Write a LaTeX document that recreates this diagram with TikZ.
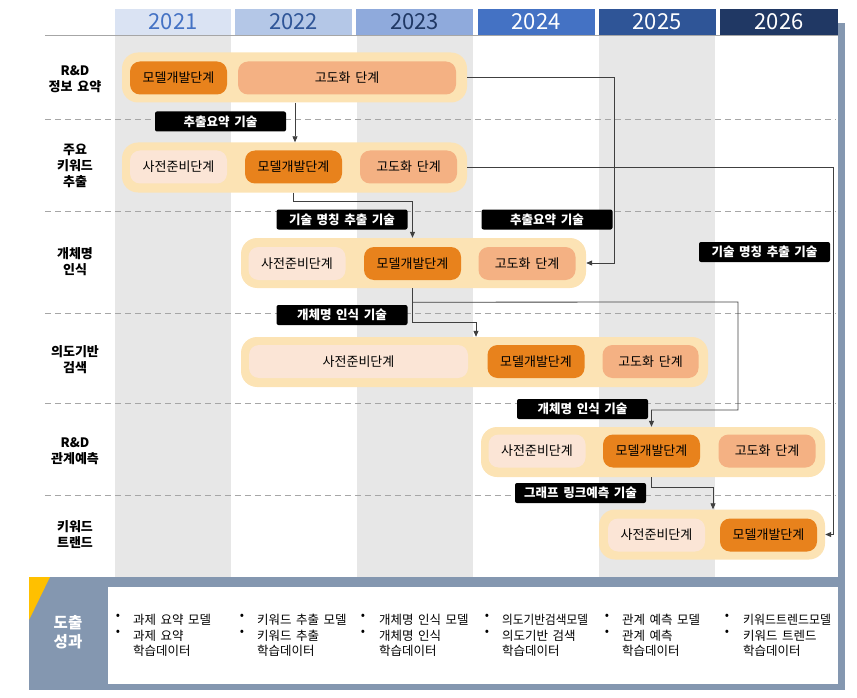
\documentclass[tikz,border=0pt]{standalone}
\usepackage{graphicx}
\usepackage{fontspec}
\setmainfont{Noto Sans CJK KR}[WordSpace=1.6]
\usetikzlibrary{arrows.meta}
\definecolor{colgray}{HTML}{E7E7E7}
\definecolor{bandc}{HTML}{8497B0}
\definecolor{triy}{HTML}{FFC000}
\definecolor{pillc}{HTML}{FCE3B4}
\definecolor{mdc}{HTML}{E8821C}
\definecolor{gdc}{HTML}{F4B183}
\definecolor{sjc}{HTML}{FBE5D6}
\definecolor{hA}{HTML}{DAE3F3}
\definecolor{hB}{HTML}{B4C7E7}
\definecolor{hC}{HTML}{8FAADC}
\definecolor{hD}{HTML}{4472C4}
\definecolor{hE}{HTML}{2F5597}
\definecolor{hF}{HTML}{203864}
\definecolor{connc}{HTML}{404040}
\definecolor{dashc}{HTML}{A6A6A6}
\begin{document}
\begin{tikzpicture}[x=1pt,y=-1pt,
  hdr/.style={rectangle, inner sep=0pt, minimum height=26pt, font=\fontsize{22}{24}\selectfont},
  pill/.style={rectangle, rounded corners=16pt, fill=pillc, inner sep=0pt, minimum height=50pt},
  stage/.style={rectangle, rounded corners=10pt, inner sep=0pt, minimum height=33pt, text=black, font=\fontsize{13}{15}\selectfont},
  md/.style={stage, fill=mdc},
  gd/.style={stage, fill=gdc},
  sj/.style={stage, fill=sjc},
  tech/.style={rectangle, rounded corners=2pt, fill=black, text=white, inner sep=0pt, minimum width=131pt, minimum height=20pt, font=\bfseries\fontsize{12.5}{14}\selectfont},
  rowlab/.style={align=center, inner sep=0pt, font=\bfseries\fontsize{13}{16}\selectfont},
  conn/.style={draw=connc, line width=0.8pt},
  arr/.style={conn, -{Triangle[length=6pt,width=5pt]}},
  sep/.style={draw=dashc, line width=0.8pt, dash pattern=on 6pt off 4pt},
  outtxt/.style={align=left, anchor=north west, inner sep=0pt, font=\fontsize{12.5}{15.5}\selectfont},
  bul/.style={anchor=north, inner sep=0pt, font=\fontsize{12.5}{15.5}\selectfont}
]
\useasboundingbox (0,0) rectangle (857,698);
% shaded columns
\fill[colgray] (115,35) rectangle (231,577);
\fill[colgray] (357,35) rectangle (473,577);
\fill[colgray] (599,35) rectangle (715,577);
% row separators
\foreach \yy in {119,211,313,403,495} \draw[sep] (45,\yy) -- (836,\yy);
% frame and bottom band
\fill[bandc] (838,23) rectangle (845,690);
\fill[bandc] (29,577) rectangle (845,690);
\fill[white] (108,587) rectangle (838,684);
\fill[triy] (29,577) -- (50,577) -- (29,620) -- cycle;
% headers
\node[hdr, fill=hA, text=hD, minimum width=116pt] (y21) at (173,22) {2021};
\node[hdr, fill=hB, text=hE, minimum width=117pt] (y22) at (293.5,22) {2022};
\node[hdr, fill=hC, text=hF, minimum width=117pt] (y23) at (414.5,22) {2023};
\node[hdr, fill=hD, text=white, minimum width=117pt] (y24) at (536,22) {2024};
\node[hdr, fill=hE, text=white, minimum width=117pt] (y25) at (657,22) {2025};
\node[hdr, fill=hF, text=white, minimum width=118pt] (y26) at (779,22) {2026};
\draw[gray!70, line width=0.8pt] (45,35) -- (838,35);
% row labels
\node[rowlab] (r1) at (75,79.5) {R\&D\\정보 요약};
\node[rowlab] (r2) at (75,166) {주요\\키워드\\추출};
\node[rowlab] (r3) at (75,261.5) {개체명\\인식};
\node[rowlab] (r4) at (75,359.5) {의도기반\\검색};
\node[rowlab] (r5) at (75,451.5) {R\&D\\관계예측};
\node[rowlab] (r6) at (75,535) {키워드\\트랜드};
% pills
\node[pill, minimum width=345pt] (p1) at (294.5,77.5) {};
\node[pill, minimum width=345pt] (p2) at (294.5,167.5) {};
\node[pill, minimum width=345pt] (p3) at (413.5,263) {};
\node[pill, minimum width=467pt] (p4) at (474.5,362) {};
\node[pill, minimum width=344pt] (p5) at (653,452) {};
\node[pill, minimum width=226pt] (p6) at (712,534.5) {};
% stages
\node[md, minimum width=97pt] (m1) at (178.5,78) {모델개발단계};
\node[gd, minimum width=218pt] (g1) at (347,78) {고도화 단계};
\node[sj, minimum width=97pt] (s2) at (178.5,167) {사전준비단계};
\node[md, minimum width=97pt] (m2) at (293.5,167) {모델개발단계};
\node[gd, minimum width=97pt] (g2) at (408.5,167) {고도화 단계};
\node[sj, minimum width=97pt] (s3) at (297,263.5) {사전준비단계};
\node[md, minimum width=97pt] (m3) at (412.5,263.5) {모델개발단계};
\node[gd, minimum width=97pt] (g3) at (527,263.5) {고도화 단계};
\node[sj, minimum width=219pt] (s4) at (358.5,361.5) {사전준비단계};
\node[md, minimum width=97pt] (m4) at (536,361.5) {모델개발단계};
\node[gd, minimum width=96pt] (g4) at (650.5,361.5) {고도화 단계};
\node[sj, minimum width=97pt] (s5) at (537,451) {사전준비단계};
\node[md, minimum width=97pt] (m5) at (651.5,451) {모델개발단계};
\node[gd, minimum width=97pt] (g5) at (767,451) {고도화 단계};
\node[sj, minimum width=97pt] (s6) at (656.5,535) {사전준비단계};
\node[md, minimum width=97pt] (m6) at (768.5,535) {모델개발단계};
% connector helper coordinates
\coordinate (c1) at (614,77.5);
\coordinate (c2) at (295,0);
\coordinate (c3) at (833,167.5);
\coordinate (c5a) at (476,0);
\coordinate (c5b) at (738,302);
\coordinate (c5c) at (738,410);
\coordinate (c6) at (713,0);
% connectors
\draw[arr] (p1.east) -- (c1) |- (p3.east);
\draw[arr] (c2 |- p1.south) -- (c2 |- p2.north);
\draw[arr] (p2.east) -- (c3) |- (p6.east);
\draw[arr] (m2 |- p2.south) -- ++(0,9) -| (m3 |- p3.north);
\draw[arr] (m3 |- p3.south) -- ++(0,34) -| (c5a |- p4.north);
\draw[arr] (m3 |- p3.south) -- ++(0,14) -- (c5b) -- (c5c) -| (m5 |- p5.north);
\draw[arr] (m5 |- p5.south) -- ++(0,10) -| (c6 |- p6.north);
% technique labels
\node[tech] (t1) at (220.5,121.5) {추출요약 기술};
\node[tech] (t2) at (342,219.5) {기술 명칭 추출 기술};
\node[tech] (t3) at (547,219.5) {추출요약 기술};
\node[tech] (t4) at (764.5,252) {기술 명칭 추출 기술};
\node[tech] (t5) at (342,315) {개체명 인식 기술};
\node[tech] (t6) at (582.5,409) {개체명 인식 기술};
\node[tech] (t7) at (580.5,493) {그래프 링크예측 기술};
% outcomes
\node[align=center, text=white, inner sep=0pt, font=\bfseries\fontsize{15.5}{19}\selectfont] (oc) at (68,632) {도출\\성과};
\node[bul] (b1a) at (118,614) {•};
\node[bul] (b1b) at (118,629.5) {•};
\node[outtxt] (o1) at (133,614) {과제 요약 모델\\과제 요약\\학습데이터};
\node[bul] (b2a) at (242,614) {•};
\node[bul] (b2b) at (242,629.5) {•};
\node[outtxt] (o2) at (257,614) {키워드 추출 모델\\키워드 추출\\학습데이터};
\node[bul] (b3a) at (363,614) {•};
\node[bul] (b3b) at (363,629.5) {•};
\node[outtxt] (o3) at (379,614) {개체명 인식 모델\\개체명 인식\\학습데이터};
\node[bul] (b4a) at (487,614) {•};
\node[bul] (b4b) at (487,629.5) {•};
\node[outtxt] (o4) at (502,614) {\resizebox{86pt}{\height}{의도기반검색모델}\\의도기반 검색\\학습데이터};
\node[bul] (b5a) at (607,614) {•};
\node[bul] (b5b) at (607,629.5) {•};
\node[outtxt] (o5) at (622,614) {관계 예측 모델\\관계 예측\\학습데이터};
\node[bul] (b6a) at (727,614) {•};
\node[bul] (b6b) at (727,629.5) {•};
\node[outtxt] (o6) at (743,614) {\resizebox{88pt}{\height}{키워드트렌드모델}\\키워드 트렌드\\학습데이터};
\end{tikzpicture}
\end{document}
